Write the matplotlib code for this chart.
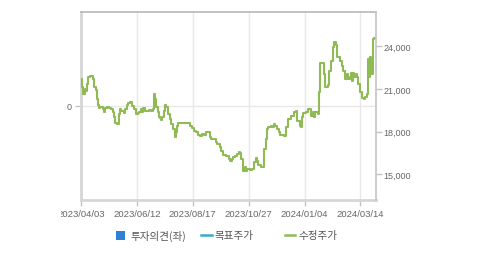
import matplotlib
matplotlib.use("Agg")
import matplotlib.pyplot as plt
from matplotlib.patches import Rectangle
from matplotlib.lines import Line2D
from matplotlib.transforms import Bbox
from matplotlib.ticker import FuncFormatter

# ---- data ----
tick_days = [0, 46, 92, 138, 184, 230]
tick_labels = ["2023/04/03", "2023/06/12", "2023/08/17", "2023/10/27", "2024/01/04", "2024/03/14"]

days = [0, 1, 2, 3, 4, 5, 6, 7, 9, 10, 11, 12, 13, 14, 15, 16, 18, 19, 20, 21,
        23, 25, 26, 27, 28, 30, 31, 32, 33, 35, 36, 38, 39, 40, 42, 44, 45, 47, 48, 49,
        50, 51, 53, 54, 56, 58, 59, 60, 61, 62, 63, 64, 65, 66, 67, 68, 69, 70, 72, 73,
        74, 76, 77, 78, 79, 80, 82, 84, 85, 87, 88, 90, 91, 93, 95, 96, 98, 100, 101, 103,
        104, 106, 107, 109, 111, 112, 114, 115, 117, 119, 120, 122, 123, 124, 125, 127, 128, 130, 131, 132,
        133, 135, 136, 137, 139, 141, 142, 144, 145, 146, 148, 150, 151, 152, 153, 154, 156, 157, 159, 160,
        161, 163, 164, 166, 167, 169, 170, 173, 175, 177, 178, 180, 181, 182, 183, 185, 186, 187, 189, 191,
        192, 193, 195, 196, 197, 198, 200, 201, 203, 204, 206, 207, 208, 209, 210, 211, 213, 215, 216, 217,
        219, 220, 221, 222, 223, 224, 225, 226, 227, 228, 230, 231, 233, 234, 235, 236, 237, 238, 239, 240,
        241, 243]
price = [21700, 21150, 20650, 21000, 20850, 21350, 21850, 21900, 21900, 21700, 21150, 20900, 20300, 19850, 19650, 19700, 19600, 19350, 19650, 19700,
         19650, 19600, 19350, 19000, 18600, 18550, 19250, 19600, 19450, 19300, 19600, 19850, 20000, 20100, 19800, 19600, 19250, 19300, 19350, 19600,
         19350, 19650, 19450, 19450, 19500, 19450, 19600, 20650, 20300, 19700, 19350, 19000, 18950, 18800, 19000, 19450, 19850, 19700, 19250, 18900,
         18550, 18200, 17600, 17950, 18400, 18600, 18600, 18600, 18600, 18600, 18600, 18400, 18250, 18050, 17950, 17750, 17700, 17800, 17750, 17950,
         17950, 17600, 17450, 17450, 17250, 17100, 16900, 16650, 16350, 16250, 16250, 16050, 15900, 16050, 16200, 16250, 16400, 16550, 16500, 16050,
         15200, 15500, 15200, 15350, 15300, 15350, 15850, 16150, 15900, 15650, 15500, 15500, 16750, 17450, 18200, 18300, 18400, 18300, 18550, 18400,
         18200, 17950, 17750, 17750, 17700, 18300, 18900, 19100, 19350, 19450, 18750, 18400, 18300, 19000, 19300, 19350, 19350, 19600, 19100, 19350,
         19000, 19350, 19250, 20800, 22800, 22800, 22050, 21150, 21300, 22250, 22950, 23950, 24300, 24300, 24100, 23250, 22950, 22600, 22250, 21700,
         22050, 21700, 21850, 22100, 21550, 22100, 21850, 22050, 21850, 21350, 20800, 20350, 20300, 20450, 20650, 23100, 21850, 23250, 22050, 24500,
         24600, 24600]

right_ticks = [15000, 18000, 21000, 24000]
legend_labels = ["투자의견(좌)", "목표주가", "수정주가"]

# ---- style ----
W, H = 479, 255
fig = plt.figure(figsize=(W / 100, H / 100), dpi=100)
fig.patch.set_facecolor("white")

L, R, B, T = 81, 376, 201, 12.7
ax = fig.add_axes([L / W, 1 - B / H, (R - L) / W, (B - T) / H])
ax2 = ax.twinx()

green = "#8fba56"
tick_color = "#666666"
font = "Liberation Sans"

# left axis (투자의견)
ax.set_ylim(-1, 1)
ax.set_yticks([0])
ax.set_yticklabels(["0"])
ax.set_xlim(0, 242.8)
ax.set_xticks(tick_days)
ax.set_xticklabels(tick_labels)
ax.grid(True, color="#e8e8e8", linewidth=1)
ax.set_axisbelow(True)

# right axis (price)
ax2.plot(days, price, color=green, linewidth=1.5, drawstyle="steps-post")
ax2.set_ylim(13177, 26437)
ax2.set_yticks(right_ticks)
ax2.yaxis.set_major_formatter(FuncFormatter(lambda v, p: f"{int(v):,}"))
ax2.set_xlim(0, 242.8)

for s in ("left", "bottom", "top"):
    ax2.spines[s].set_visible(False)
ax.spines["right"].set_visible(False)
ax2.spines["right"].set_color("#c4c4c4")
ax2.spines["right"].set_linewidth(1.2)
ax.spines["left"].set_linewidth(2)
ax.spines["bottom"].set_linewidth(2)
ax.spines["left"].set_color("#d6d6d6")
ax.spines["bottom"].set_color("#d6d6d6")
ax.spines["top"].set_color("#b8b8b8")
ax.spines["top"].set_linewidth(1.2)

for a in (ax, ax2):
    a.tick_params(colors="#c4c4c4", labelcolor=tick_color, labelsize=6.5, length=4, width=1)
    for lab in a.get_xticklabels() + a.get_yticklabels():
        lab.set_fontfamily(font)
ax.tick_params(axis="x", pad=2.5, labelsize=6.8)
ax.tick_params(axis="y", pad=2.5)
ax2.tick_params(axis="y", pad=1.5)

# clip the first date label like the reference
first = ax.get_xticklabels()[0]
first.set_clip_on(True)
first.set_clip_box(Bbox([[61, 0], [W, H]]))

# ---- legend (manual) ----
ly = 1 - 236 / H
fig.patches.append(Rectangle((116 / W, 1 - 240.5 / H), 9 / W, 9 / H, transform=fig.transFigure,
                             facecolor="#2f7fd6", edgecolor="none"))
fig.lines.append(Line2D([201 / W, 212 / W], [ly, ly], transform=fig.transFigure, color="#3aaac4", linewidth=1.8))
fig.lines.append(Line2D([285 / W, 295 / W], [ly, ly], transform=fig.transFigure, color=green, linewidth=1.8))
kfont = ["Noto Sans CJK KR", "DejaVu Sans"]
for x0, txt in zip([130.5, 214.5, 298.5], legend_labels):
    fig.text(x0 / W, ly, txt, ha="left", va="center", fontsize=7.6, color="#555555", family=kfont)

fig.savefig("out.png", dpi=100, facecolor="white")
